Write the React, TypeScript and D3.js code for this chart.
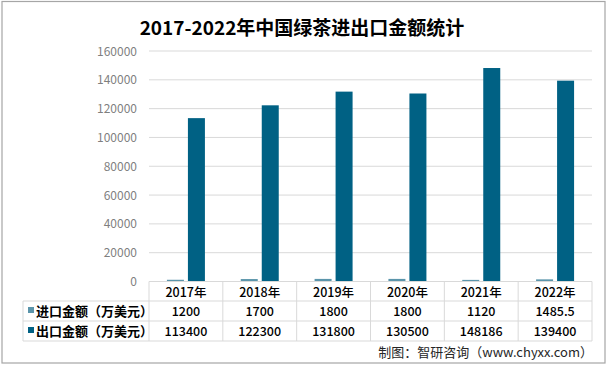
import React from "react";
import * as d3 from "d3";

const years = ["2017年", "2018年", "2019年", "2020年", "2021年", "2022年"];
const importValues = [1200, 1700, 1800, 1800, 1120, 1485.5];
const exportValues = [113400, 122300, 131800, 130500, 148186, 139400];
const importLabels = ["1200", "1700", "1800", "1800", "1120", "1485.5"];
const exportLabels = ["113400", "122300", "131800", "130500", "148186", "139400"];
const seriesNames = ["进口金额（万美元）", "出口金额（万美元）"];
const yTicks = [0, 20000, 40000, 60000, 80000, 100000, 120000, 140000, 160000];

const W = 608;
const H = 365;
const plotLeft = 149;
const plotRight = 592;
const plotTop = 51;
const plotBottom = 281.5;
const tableLeft = 23;
const rowLines = [281.5, 301, 321, 341];
const importColor = "#5b95ab";
const exportColor = "#006184";
const font = "'Noto Sans CJK SC', 'Noto Sans', sans-serif";

export default function App() {
  const x = d3.scaleBand<string>().domain(years).range([plotLeft, plotRight]);
  const y = d3.scaleLinear().domain([0, 160000]).range([plotBottom, plotTop]);
  const barW = 17;
  const gap = 4;

  return (
    <svg width={W} height={H} style={{ position: "absolute", left: 0, top: 0, background: "#fff" }}>
      <rect x={0} y={0} width={W} height={H} fill="#fff" />
      <rect x={2} y={1.5} width={603} height={361.5} fill="none" stroke="#a6a6a6" strokeWidth={1.2} />
      <text x={302} y={35} textAnchor="middle" fontFamily={font} fontWeight={700} fontSize={19} fill="#000">
        2017-2022年中国绿茶进出口金额统计
      </text>

      {yTicks.map((t) => (
        <g key={t}>
          {t > 0 && (
            <line x1={plotLeft} x2={plotRight} y1={y(t)} y2={y(t)} stroke="#d9d9d9" strokeWidth={1} />
          )}
          <text x={137} y={y(t) + 4.5} textAnchor="end" fontFamily={font} fontSize={12} fill="#7f7f7f">
            {t}
          </text>
        </g>
      ))}

      {years.map((yr, i) => {
        const c = (x(yr) as number) + x.bandwidth() / 2;
        return (
          <g key={yr}>
            <rect x={c - gap / 2 - barW} y={y(importValues[i])} width={barW} height={plotBottom - y(importValues[i])} fill={importColor} />
            <rect x={c + gap / 2} y={y(exportValues[i])} width={barW} height={plotBottom - y(exportValues[i])} fill={exportColor} />
          </g>
        );
      })}

      {/* table */}
      <g stroke="#d9d9d9" strokeWidth={1}>
        <line x1={plotLeft} x2={plotRight} y1={rowLines[0]} y2={rowLines[0]} />
        <line x1={tableLeft} x2={plotRight} y1={rowLines[1]} y2={rowLines[1]} />
        <line x1={tableLeft} x2={plotRight} y1={rowLines[2]} y2={rowLines[2]} />
        <line x1={tableLeft} x2={plotRight} y1={rowLines[3]} y2={rowLines[3]} />
        <line x1={tableLeft} x2={tableLeft} y1={rowLines[1]} y2={rowLines[3]} />
        {years.map((yr) => (
          <line key={yr} x1={x(yr) as number} x2={x(yr) as number} y1={rowLines[0]} y2={rowLines[3]} />
        ))}
        <line x1={plotRight} x2={plotRight} y1={rowLines[0]} y2={rowLines[3]} />
      </g>
      {years.map((yr, i) => {
        const c = (x(yr) as number) + x.bandwidth() / 2;
        return (
          <g key={yr} fontFamily={font} fontSize={12.5} fill="#000" textAnchor="middle">
            <text x={c} y={297} fontWeight={500}>{yr}</text>
            <text x={c} y={316} fontWeight={500}>{importLabels[i]}</text>
            <text x={c} y={336} fontWeight={500}>{exportLabels[i]}</text>
          </g>
        );
      })}
      {seriesNames.map((s, i) => (
        <g key={s}>
          <rect x={28} y={307 + i * 20} width={6} height={6} fill={i === 0 ? importColor : exportColor} />
          <text x={36} y={316 + i * 20} fontFamily={font} fontSize={13} fontWeight={700} fill="#000">{s}</text>
        </g>
      ))}

      <text x={593} y={357} textAnchor="end" fontFamily={font} fontSize={13} fill="#262626">
        制图：智研咨询（www.chyxx.com）
      </text>
    </svg>
  );
}
